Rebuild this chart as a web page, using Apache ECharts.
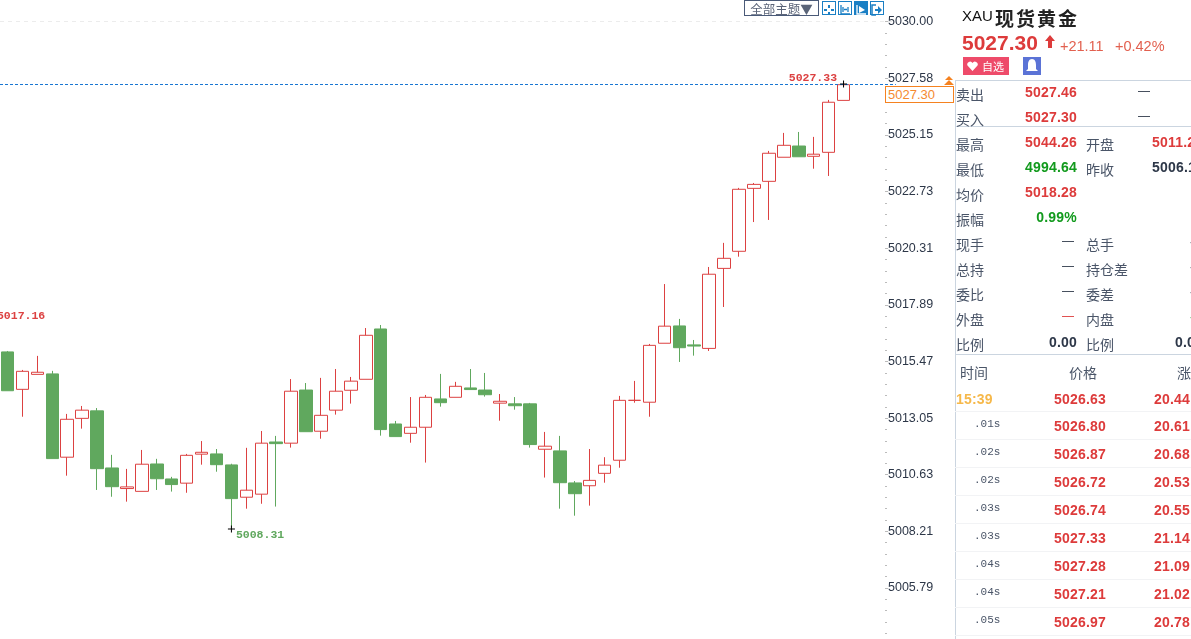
<!DOCTYPE html>
<html lang="zh">
<head>
<meta charset="UTF-8">
<title>XAU 现货黄金</title>
<script src="https://cdn.jsdelivr.net/npm/echarts@6/dist/echarts.min.js"></script>
<style>
html, body { margin: 0; padding: 0; background: #fff; overflow: hidden; }
body { width: 1191px; height: 639px; position: relative; font-family: "Liberation Sans", "Noto Sans CJK SC", sans-serif; }
#chart { position: absolute; left: 0; top: 0; width: 955px; height: 639px; }
.abs { position: absolute; white-space: nowrap; line-height: 1; }
#panel { position: absolute; left: 955px; top: 0; width: 236px; height: 639px; overflow: hidden; }
.label { font: 14px "Noto Sans CJK SC", sans-serif; color: #4a5568; }
.num { font: bold 14px "Liberation Sans", sans-serif; letter-spacing: .2px; }
.red { color: #dd3b3b; }
.green { color: #129a1d; }
.dark { color: #2d3748; }
.hr { position: absolute; left: 0; width: 236px; height: 1px; background: #cbd5e0; }
.rowline { position: absolute; left: 0; width: 236px; height: 1px; background: #f2f3f5; }
#toolbar .btn { position: absolute; top: 1px; width: 12px; height: 12px; border: 1px solid #1a7fc4; background: #fff; }
</style>
</head>
<body>
<div id="chart"></div>

<div id="toolbar">
<div class="abs" style="left:744px;top:0;width:73px;height:14px;border:1px solid #4a5a78;border-top-width:1px;font:12.5px 'Noto Sans CJK SC';line-height:15px;color:#5a6478;text-align:center;">全部主题▼</div>
<div class="btn" style="left:822px"><svg width="12" height="12"><path d="M6 1V4M6 8V11M1 6H4M8 6H11" stroke="#1a7fc4" stroke-width="2"/></svg></div>
<div class="btn" style="left:838px"><svg width="12" height="12"><path d="M2 1V10H11M4 3V8M9 3V8M5 5.500H8" stroke="#1a7fc4" stroke-width="1.300" fill="none"/></svg></div>
<div class="btn" style="left:854px;background:#1a7fc4"><svg width="12" height="12"><path d="M2 1V10H11" stroke="#fff" stroke-width="1.300" fill="none"/><path d="M4 2L10 6L4 9Z" fill="#fff"/></svg></div>
<div class="btn" style="left:870px"><svg width="12" height="12"><path d="M5 1H1V11H5" stroke="#1a7fc4" stroke-width="1.500" fill="none"/><path d="M4 5H7V2L11 6L7 10V7H4Z" fill="#1a7fc4"/></svg></div>
</div>

<div class="abs" style="left:885px;top:86px;width:67px;height:15px;border:1px solid #f58220;background:#fff;font:13px 'Liberation Sans';line-height:16px;color:#f58a30;text-indent:2px;" id="lastBox"></div>
<svg class="abs" style="left:943px;top:76px" width="12" height="10"><path d="M6 0L10 4H2ZM6 4L11 9H1Z" fill="#f58220"/></svg>

<div id="panel"></div>

<script>
const opens = [5015.88, 5014.28, 5014.92, 5014.94, 5011.38, 5013.04, 5013.36, 5010.92, 5010.04, 5009.92,
  5011.09, 5010.45, 5010.27, 5011.51, 5011.52, 5011.05, 5009.67, 5009.80, 5012.03, 5011.98,
  5014.25, 5012.49, 5013.39, 5014.24, 5014.71, 5016.86, 5012.80, 5012.40, 5012.66, 5013.87,
  5013.94, 5014.34, 5014.25, 5013.69, 5013.66, 5013.66, 5011.72, 5011.65, 5010.28, 5010.16,
  5010.69, 5011.25, 5013.81, 5013.73, 5016.25, 5016.99, 5016.18, 5016.03, 5019.45, 5020.18,
  5022.87, 5023.17, 5024.20, 5024.68, 5024.24, 5024.41, 5026.63];
const closes = [5014.22, 5015.05, 5015.01, 5011.32, 5013.00, 5013.39, 5010.89, 5010.12, 5010.11, 5011.08,
  5010.46, 5010.21, 5011.46, 5011.59, 5011.06, 5009.61, 5009.97, 5011.98, 5011.96, 5014.20,
  5012.47, 5013.17, 5014.20, 5014.63, 5016.59, 5012.56, 5012.26, 5012.66, 5013.94, 5013.71,
  5014.41, 5014.27, 5014.05, 5013.77, 5013.58, 5011.92, 5011.85, 5010.29, 5009.82, 5010.39,
  5011.04, 5013.81, 5013.81, 5016.16, 5016.98, 5016.06, 5016.13, 5019.20, 5019.88, 5022.83,
  5023.04, 5024.37, 5024.71, 5024.22, 5024.33, 5026.55, 5027.30];
const lows = [5014.22, 5013.11, 5014.92, 5011.32, 5010.59, 5012.60, 5009.98, 5009.69, 5009.48, 5009.92,
  5009.98, 5009.91, 5009.86, 5011.06, 5010.76, 5008.31, 5009.18, 5009.39, 5009.27, 5011.79,
  5012.47, 5012.17, 5013.20, 5013.67, 5014.71, 5012.30, 5012.26, 5012.00, 5011.15, 5013.54,
  5013.94, 5014.27, 5013.97, 5012.94, 5013.41, 5011.79, 5010.51, 5009.18, 5008.88, 5009.31,
  5010.29, 5010.93, 5013.71, 5013.11, 5016.25, 5015.45, 5015.72, 5015.92, 5017.80, 5019.95,
  5021.43, 5021.52, 5024.20, 5024.22, 5023.71, 5023.40, 5026.63];
const highs = [5015.92, 5015.11, 5015.71, 5015.07, 5013.23, 5013.57, 5013.48, 5011.48, 5010.88, 5011.69,
  5011.31, 5010.54, 5011.52, 5012.07, 5011.73, 5011.10, 5011.78, 5012.50, 5012.29, 5014.72,
  5014.55, 5014.77, 5015.15, 5014.81, 5016.90, 5017.03, 5012.93, 5013.95, 5014.04, 5014.94,
  5014.60, 5015.15, 5014.98, 5014.08, 5013.95, 5013.70, 5012.46, 5012.29, 5010.36, 5011.73,
  5011.38, 5014.00, 5014.64, 5016.22, 5018.78, 5017.29, 5016.39, 5019.51, 5020.54, 5022.89,
  5023.10, 5024.47, 5025.24, 5025.28, 5025.07, 5026.65, 5027.33];
const yTicks = [5030.00, 5027.58, 5025.15, 5022.73, 5020.31, 5017.89, 5015.47, 5013.05, 5010.63, 5008.21, 5005.79];
const lastPrice = 5027.30;
const topLine = 5030.00;
const highMark = 5027.33;
const lowMark = 5008.31;
const leftMark = 5017.16;

const quoteHead = { code: 'XAU', name: '现货黄金', price: '5027.30', change: '+21.11', percent: '+0.42%' };
const quoteLeft = [
  ['卖出', '5027.46', 'red', 91], ['买入', '5027.30', 'red', 116], ['最高', '5044.26', 'red', 141],
  ['最低', '4994.64', 'green', 166], ['均价', '5018.28', 'red', 191], ['振幅', '0.99%', 'green', 216],
  ['现手', '—', 'dark', 241], ['总持', '—', 'dark', 266], ['委比', '—', 'dark', 291],
  ['外盘', '—', 'red', 316], ['比例', '0.00', 'dark', 341]
];
const quoteRight = [
  ['', '—', 'dark', 91], ['', '—', 'dark', 116], ['开盘', '5011.2', 'red', 141], ['昨收', '5006.1', 'dark', 166],
  ['总手', '-', 'dark', 241], ['持仓差', '-', 'dark', 266], ['委差', '-', 'dark', 291],
  ['内盘', '-', 'green', 316], ['比例', '0.0', 'dark', 341]
];
const tradeTimes = ['15:39', '.01s', '.02s', '.02s', '.03s', '.03s', '.04s', '.04s', '.05s'];
const tradePrices = ['5026.63', '5026.80', '5026.87', '5026.72', '5026.74', '5027.33', '5027.28', '5027.21', '5026.97'];
const tradeChanges = ['20.44', '20.61', '20.68', '20.53', '20.55', '21.14', '21.09', '21.02', '20.78'];

// 60 slots of 15px, the last three stay empty so the lines run up to the price box
const categories = Array.from({ length: 60 }, (_, i) => String(i));
const candles = opens.map((o, i) => [o, closes[i], lows[i], highs[i]]);
const minorTicks = [];
yTicks.forEach(function(t) {
  for (let k = 1; k < 5; k++) minorTicks.push(t - k * 0.484);
});

const RED = '#dc4141';
const GREEN = '#60a85e';
const crossSymbol = 'path://M0 3H7V4H0ZM3 0H4V7H3Z';
const markFont = { fontFamily: 'Liberation Mono', fontWeight: 'bold', fontSize: 11.5 };

const chart = echarts.init(document.getElementById('chart'));
chart.setOption({
  animation: false,
  grid: { left: -4.2, top: 0, width: 900, height: 639, containLabel: false },
  xAxis: { type: 'category', data: categories, boundaryGap: true, show: false },
  yAxis: [{
    type: 'value', position: 'right', offset: -10.8, min: 5003.61, max: 5030.92,
    splitLine: { show: false },
    axisLine: { show: false },
    axisTick: { show: true, length: 3, customValues: yTicks, lineStyle: { color: '#bbb' } },
    axisLabel: {
      customValues: yTicks, margin: 3, color: '#2d3748', fontSize: 12.5, fontFamily: 'Liberation Sans',
      formatter: function(v) { return v.toFixed(2); }
    }
  }, {
    type: 'value', position: 'right', offset: -10.8, min: 5003.61, max: 5030.92,
    splitLine: { show: false },
    axisLine: { show: false },
    axisLabel: { show: false },
    axisTick: { show: true, length: 2, customValues: minorTicks, lineStyle: { color: '#bbb' } }
  }],
  series: [{
    type: 'candlestick',
    data: candles,
    barWidth: 13,
    itemStyle: {
      color: '#fff', color0: GREEN, borderColor: RED, borderColor0: GREEN, borderColorDoji: RED, borderWidth: 1
    },
    markLine: {
      silent: true, symbol: 'none', label: { show: false },
      data: [
        { yAxis: lastPrice, lineStyle: { color: '#1976d2', type: [3, 2], width: 1 } },
        { yAxis: topLine, lineStyle: { color: '#ececec', type: [4, 4], width: 1 } }
      ]
    },
    markPoint: {
      silent: true,
      data: [
        {
          coord: ['56', highMark], symbol: crossSymbol, symbolSize: 7, itemStyle: { color: '#000' },
          label: { show: true, position: 'left', distance: 3, offset: [0, -6], color: RED, formatter: highMark.toFixed(2), ...markFont }
        },
        {
          coord: ['15', lowMark], symbol: crossSymbol, symbolSize: 7, itemStyle: { color: '#000' },
          label: { show: true, position: 'right', distance: 1, offset: [0, 6], color: GREEN, formatter: lowMark.toFixed(2), ...markFont }
        },
        {
          coord: ['0', leftMark], symbol: 'circle', symbolSize: 1, itemStyle: { color: 'transparent' },
          label: { show: true, position: 'right', distance: 0, offset: [-11, -6], color: RED, formatter: leftMark.toFixed(2), ...markFont }
        }
      ]
    }
  }]
});

document.getElementById('lastBox').textContent = lastPrice.toFixed(2);

function put(html) { document.getElementById('panel').insertAdjacentHTML('beforeend', html); }
function text(cls, left, cy, value, style) {
  put('<div class="abs ' + cls + '" style="left:' + left + 'px;top:' + (cy - 7) + 'px;' + (style || '') + '">' + value + '</div>');
}
function rightText(cls, right, cy, value, style) {
  put('<div class="abs ' + cls + '" style="right:' + (236 - right) + 'px;top:' + (cy - 7) + 'px;' + (style || '') + '">' + value + '</div>');
}

text('', 7, 14, quoteHead.code, "font:15px 'Liberation Sans';color:#111;");
text('', 40, 14, quoteHead.name, "font:bold 19px 'Noto Sans CJK SC';color:#222;letter-spacing:2px;top:4px;");
text('red', 7, 41, quoteHead.price, "font:bold 21px 'Liberation Sans';top:31px;");
put('<svg class="abs" style="left:89px;top:35px" width="12" height="13"><path d="M6 0L11 6H8V13H4V6H1Z" fill="#dd3b3b"/></svg>');
text('', 105, 45, quoteHead.change, "font:14.5px 'Liberation Sans';color:#e2604f;top:38px;");
text('', 160, 45, quoteHead.percent, "font:14.5px 'Liberation Sans';color:#e2604f;top:38px;");
put('<div class="abs" style="left:8px;top:57px;width:46px;height:18px;background:#ee4b6a;color:#fff;font:11px \'Noto Sans CJK SC\';line-height:18px;text-indent:19px;">自选<svg style="position:absolute;left:4px;top:4px" width="11" height="10"><path d="M5.500 10L0.500 4.500A2.800 2.800 0 0 1 5.500 2A2.800 2.800 0 0 1 10.500 4.500Z" fill="#fff"/></svg></div>');
put('<div class="abs" style="left:68px;top:57px;width:18px;height:18px;background:#5b73d6;"><svg width="18" height="18"><path d="M9 2C12 2 13 5 13 8V12L15 14H3L5 12V8C5 5 6 2 9 2Z" fill="#fff"/></svg></div>');

[80, 126, 354].forEach(function(y) { put('<div class="hr" style="top:' + y + 'px"></div>'); });
put('<div style="position:absolute;left:0;top:80px;width:1px;height:559px;background:#cbd5e0"></div>');

quoteLeft.forEach(function(r) {
  text('label', 1, r[3], r[0]);
  if (r[1] === '—') rightText(r[2], 119, r[3], r[1], "font:12px 'Liberation Sans';");
  else rightText('num ' + r[2], 122, r[3], r[1]);
});
quoteRight.forEach(function(r) {
  if (r[0]) text('label', 131, r[3], r[0]);
  if (r[1] === '—') text(r[2], 183, r[3], r[1], "font:12px 'Liberation Sans';");
  else if (r[1] === '-') text(r[2], 235, r[3], r[1], "font:14px 'Liberation Sans';");
  else if (r[1] === '0.0') text('num ' + r[2], 220, r[3], r[1]);
  else text('num ' + r[2], 197, r[3], r[1]);
});

text('label', 5, 369, '时间');
text('label', 114, 369, '价格');
text('label', 222, 369, '涨');
tradeTimes.forEach(function(t, i) {
  const cy = 398 + i * 28 - (i > 0 ? 1 : 0);
  if (i === 0) text('num', 1, cy, t, 'color:#f6b84a;');
  else text('', 19, cy, t, "font:11px 'Liberation Mono';color:#4a5568;");
  text('num red', 99, cy, tradePrices[i]);
  text('num red', 199, cy, tradeChanges[i]);
  put('<div class="rowline" style="top:' + (411 + i * 28 - (i > 0 ? 0 : 0)) + 'px"></div>');
});

window.addEventListener('resize', function() { chart.resize(); });
</script>
</body>
</html>
